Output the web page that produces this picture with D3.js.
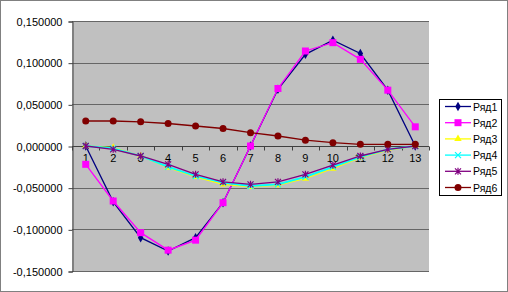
<!DOCTYPE html>
<html>
<head>
<meta charset="utf-8">
<script src="https://cdn.jsdelivr.net/npm/d3@7"></script>
<style>
  body { margin: 0; background: #fff; }
  svg { display: block; font-family: "Liberation Sans", Arial, sans-serif; }
</style>
</head>
<body>
<div id="chart"></div>
<script>
var categories = ["1","2","3","4","5","6","7","8","9","10","11","12","13"];
var yTicks = [-0.15, -0.1, -0.05, 0, 0.05, 0.1, 0.15];

var ryad1 = [0, -0.067, -0.110, -0.126, -0.110, -0.068, 0, 0.068, 0.110, 0.127, 0.111, 0.067, 0];
var ryad2 = [-0.022, -0.066, -0.104, -0.125, -0.113, -0.068, 0, 0.069, 0.114, 0.124, 0.104, 0.067, 0.023];
var ryad3 = [0, -0.002, -0.012, -0.026, -0.037, -0.046, -0.049, -0.047, -0.039, -0.027, -0.014, -0.005, 0];
var ryad4 = [0, -0.003, -0.012, -0.025, -0.036, -0.044, -0.048, -0.046, -0.037, -0.025, -0.013, -0.004, 0];
var ryad5 = [0, -0.004, -0.012, -0.022, -0.034, -0.043, -0.046, -0.043, -0.034, -0.023, -0.012, -0.004, 0];
var ryad6 = [0.030, 0.030, 0.029, 0.027, 0.024, 0.021, 0.016, 0.012, 0.007, 0.004, 0.002, 0.002, 0.002];

var series = [
    {name: "Ряд1", values: ryad1, color: "#000080", marker: "diamond"},
    {name: "Ряд2", values: ryad2, color: "#ff00ff", marker: "square"},
    {name: "Ряд3", values: ryad3, color: "#ffff00", marker: "triangle"},
    {name: "Ряд4", values: ryad4, color: "#00ffff", marker: "cross"},
    {name: "Ряд5", values: ryad5, color: "#800080", marker: "star"},
    {name: "Ряд6", values: ryad6, color: "#800000", marker: "circle"}
];

var W = 508, H = 292;
var plot = {left: 72, right: 429, top: 21, bottom: 271};

var svg = d3.select("#chart").append("svg").attr("width", W).attr("height", H);

svg.append("rect").attr("x", 0.5).attr("y", 0.5).attr("width", W - 1).attr("height", H - 1)
    .attr("fill", "#fff").attr("stroke", "#808080");

var x = d3.scaleBand().domain(categories).range([plot.left, plot.right]);
var y = d3.scaleLinear().domain([-0.15, 0.15]).range([plot.bottom, plot.top]);

// plot area
svg.append("rect").attr("x", plot.left).attr("y", plot.top)
    .attr("width", plot.right - plot.left).attr("height", plot.bottom - plot.top)
    .attr("fill", "#c0c0c0");

// gridlines
svg.append("g").selectAll("line").data(yTicks.filter(function(d) { return d !== 0; }))
    .enter().append("line")
    .attr("x1", plot.left).attr("x2", plot.right)
    .attr("y1", function(d) { return Math.round(y(d)) + 0.5; })
    .attr("y2", function(d) { return Math.round(y(d)) + 0.5; })
    .attr("stroke", "#666").attr("stroke-width", 1);

// y axis
var fmt = function(d) { return d3.format(".6f")(d).replace(".", ",").replace("−", "-"); };
var yAxis = d3.axisLeft(y).tickValues(yTicks).tickFormat(fmt).tickSize(4).tickPadding(6);
var gy = svg.append("g").attr("transform", "translate(" + (plot.left + 0.5) + ",0.5)").call(yAxis);
gy.selectAll("text").attr("font-size", 11).attr("fill", "#000").attr("font-family", "Liberation Sans, Arial");
gy.select(".domain").attr("stroke", "#404040");
gy.selectAll(".tick line").attr("stroke", "#404040");

// x axis on zero line
var zeroY = Math.round(y(0)) + 0.5;
svg.append("line").attr("x1", plot.left).attr("x2", plot.right).attr("y1", zeroY).attr("y2", zeroY)
    .attr("stroke", "#404040");
var bounds = categories.map(function(c) { return x(c); }).concat([plot.right]);
svg.append("g").selectAll("line").data(bounds).enter().append("line")
    .attr("x1", function(d) { return Math.round(d) + 0.5; })
    .attr("x2", function(d) { return Math.round(d) + 0.5; })
    .attr("y1", zeroY).attr("y2", zeroY + 4).attr("stroke", "#404040");
svg.append("g").selectAll("text").data(categories).enter().append("text")
    .attr("x", function(d) { return x(d) + x.bandwidth() / 2; })
    .attr("y", zeroY + 15)
    .attr("text-anchor", "middle").attr("font-size", 11).text(function(d) { return d; });

function cx(i) { return x(categories[i]) + x.bandwidth() / 2; }

function drawMarker(g, type, color, px, py) {
    if (type === "diamond") {
        g.append("path").attr("d", d3.symbol(d3.symbolDiamond, 26)()).attr("transform", "translate(" + px + "," + py + ")")
            .attr("fill", color);
    } else if (type === "square") {
        g.append("rect").attr("x", px - 3.5).attr("y", py - 3.5).attr("width", 7).attr("height", 7).attr("fill", color);
    } else if (type === "triangle") {
        g.append("path").attr("d", d3.symbol(d3.symbolTriangle, 24)()).attr("transform", "translate(" + px + "," + py + ")")
            .attr("fill", color);
    } else if (type === "cross") {
        g.append("path").attr("d", "M-3,-3L3,3M-3,3L3,-3").attr("transform", "translate(" + px + "," + py + ")")
            .attr("stroke", color).attr("stroke-width", 1.2).attr("fill", "none");
    } else if (type === "star") {
        g.append("path").attr("d", "M-3,-3L3,3M-3,3L3,-3M0,-3.5L0,3.5").attr("transform", "translate(" + px + "," + py + ")")
            .attr("stroke", color).attr("stroke-width", 1.2).attr("fill", "none");
    } else if (type === "circle") {
        g.append("circle").attr("cx", px).attr("cy", py).attr("r", 3.5).attr("fill", color);
    }
}

var line = d3.line().x(function(d, i) { return cx(i); }).y(function(d) { return y(d); });

series.forEach(function(s) {
    var g = svg.append("g");
    g.append("path").datum(s.values).attr("d", line)
        .attr("fill", "none").attr("stroke", s.color).attr("stroke-width", s.marker === "cross" ? 1.8 : 1.3);
    s.values.forEach(function(v, i) { drawMarker(g, s.marker, s.color, cx(i), y(v)); });
});

// legend
var leg = svg.append("g");
leg.append("rect").attr("x", 439.5).attr("y", 99.5).attr("width", 62).attr("height", 96)
    .attr("fill", "#fff").attr("stroke", "#000");
series.forEach(function(s, i) {
    var ly = 106.5 + i * 16.2;
    leg.append("line").attr("x1", 445).attr("x2", 471).attr("y1", ly).attr("y2", ly)
        .attr("stroke", s.color).attr("stroke-width", 1.3);
    drawMarker(leg, s.marker, s.color, 458, ly);
    leg.append("text").attr("x", 473).attr("y", ly + 4).attr("font-size", 10.5).text(s.name);
});
</script>
</body>
</html>
